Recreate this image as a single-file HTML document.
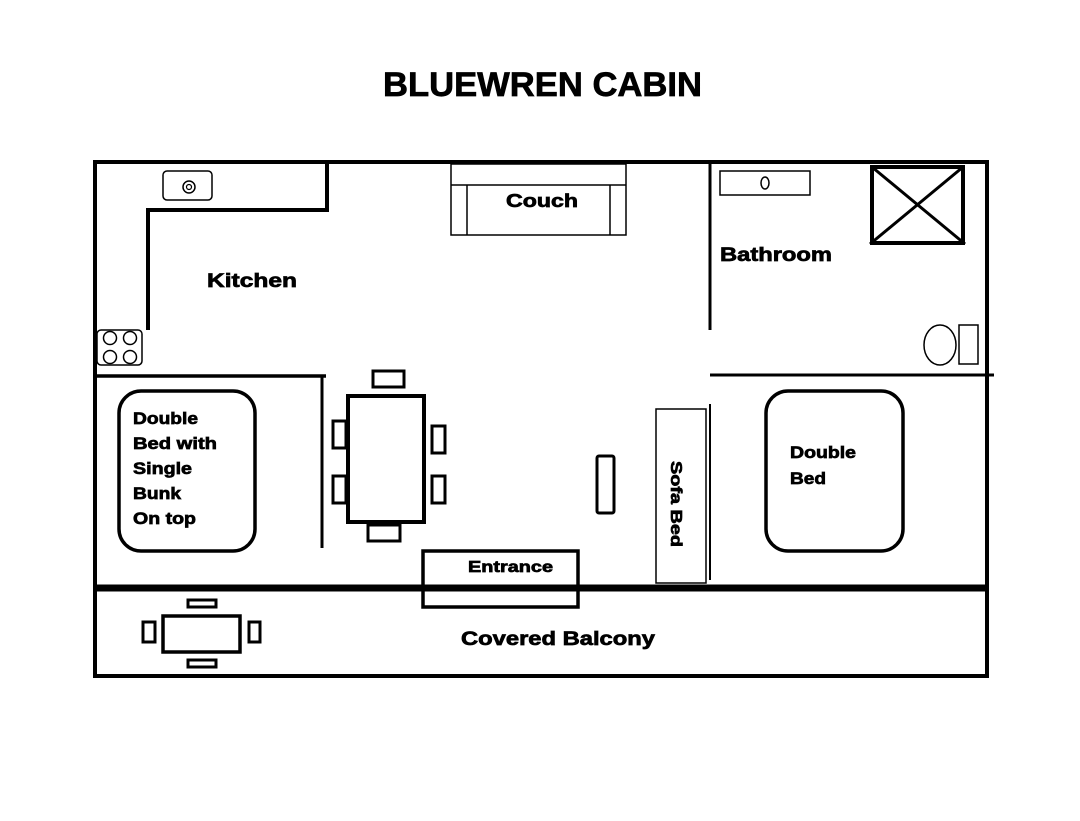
<!DOCTYPE html>
<html><head><style>html,body{margin:0;padding:0;background:#fff}svg{display:block}text{font-family:"Liberation Sans",Arial,sans-serif;font-weight:bold;fill:#000}.l{stroke:#000;stroke-width:0.7}</style></head>
<body>
<svg width="1080" height="821" viewBox="0 0 1080 821" xmlns="http://www.w3.org/2000/svg">
<rect width="1080" height="821" fill="#fff"/>
<text x="383" y="96" font-size="34" textLength="319" lengthAdjust="spacingAndGlyphs" class="l">BLUEWREN CABIN</text>
<g fill="none" stroke="#000">
<rect x="95" y="162" width="892" height="514" stroke-width="4"/>
<line x1="95" y1="588" x2="987" y2="588" stroke-width="7"/>
<polyline points="327,162 327,210 148,210 148,330" stroke-width="4"/>
<rect x="163" y="171" width="49" height="29" rx="4" stroke-width="1.5"/>
<circle cx="189" cy="187" r="6" stroke-width="1.5"/><circle cx="189" cy="187" r="2.5" stroke-width="1.2"/>
<rect x="97" y="330" width="45" height="35" rx="4" stroke-width="1.5"/>
<circle cx="110" cy="338" r="6.5" stroke-width="1.5"/><circle cx="130" cy="338" r="6.5" stroke-width="1.5"/>
<circle cx="110" cy="357" r="6.5" stroke-width="1.5"/><circle cx="130" cy="357" r="6.5" stroke-width="1.5"/>
<line x1="95" y1="376" x2="326" y2="376" stroke-width="3.5"/>
<line x1="322" y1="376" x2="322" y2="548" stroke-width="3"/>
<rect x="451" y="164" width="175" height="71" stroke-width="1.5"/>
<line x1="451" y1="185" x2="626" y2="185" stroke-width="1.5"/>
<line x1="467" y1="185" x2="467" y2="235" stroke-width="1.5"/>
<line x1="610" y1="185" x2="610" y2="235" stroke-width="1.5"/>
<line x1="710" y1="162" x2="710" y2="330" stroke-width="3"/>
<line x1="710" y1="375" x2="994" y2="375" stroke-width="3"/>
<rect x="720" y="171" width="90" height="24" stroke-width="1.5"/>
<ellipse cx="765" cy="183" rx="4" ry="6" stroke-width="1.5"/>
<rect x="872" y="167" width="91" height="76" stroke-width="4"/>
<line x1="872" y1="167" x2="965" y2="244" stroke-width="3"/>
<line x1="963" y1="167" x2="870" y2="244" stroke-width="3"/>
<ellipse cx="940" cy="345" rx="16" ry="20" stroke-width="1.5"/>
<rect x="959" y="325" width="19" height="39" stroke-width="1.5"/>
<rect x="348" y="396" width="76" height="126" stroke-width="4"/>
<rect x="373" y="371" width="31" height="16" stroke-width="3"/>
<rect x="368" y="525" width="32" height="16" stroke-width="3"/>
<rect x="333" y="421" width="13" height="27" stroke-width="3"/>
<rect x="333" y="476" width="13" height="27" stroke-width="3"/>
<rect x="432" y="426" width="13" height="27" stroke-width="3"/>
<rect x="432" y="476" width="13" height="27" stroke-width="3"/>
<rect x="119" y="391" width="136" height="160" rx="22" stroke-width="3.5"/>
<rect x="766" y="391" width="137" height="160" rx="22" stroke-width="3.5"/>
<rect x="656" y="409" width="50" height="174" stroke-width="1.5"/>
<line x1="710" y1="404" x2="710" y2="580" stroke-width="2"/>
<rect x="597" y="456" width="17" height="57" rx="2" stroke-width="3"/>
<rect x="423" y="551" width="155" height="56" stroke-width="3.5"/>
<rect x="163" y="616" width="77" height="36" stroke-width="3.5"/>
<rect x="188" y="600" width="28" height="7" stroke-width="3"/>
<rect x="188" y="660" width="28" height="7" stroke-width="3"/>
<rect x="143" y="622" width="12" height="20" stroke-width="3"/>
<rect x="249" y="622" width="11" height="20" stroke-width="3"/>
</g>
<g class="l" lengthAdjust="spacingAndGlyphs">
<text x="506" y="207" font-size="18" textLength="72" lengthAdjust="spacingAndGlyphs">Couch</text>
<text x="207" y="287" font-size="19" textLength="90" lengthAdjust="spacingAndGlyphs">Kitchen</text>
<text x="720" y="261" font-size="19" textLength="112" lengthAdjust="spacingAndGlyphs">Bathroom</text>
<text x="133" y="424" font-size="17" textLength="65" lengthAdjust="spacingAndGlyphs">Double</text>
<text x="133" y="449" font-size="17" textLength="84" lengthAdjust="spacingAndGlyphs">Bed with</text>
<text x="133" y="474" font-size="17" textLength="59" lengthAdjust="spacingAndGlyphs">Single</text>
<text x="133" y="499" font-size="17" textLength="48" lengthAdjust="spacingAndGlyphs">Bunk</text>
<text x="133" y="524" font-size="17" textLength="63" lengthAdjust="spacingAndGlyphs">On top</text>
<text x="790" y="458" font-size="17" textLength="66" lengthAdjust="spacingAndGlyphs">Double</text>
<text x="790" y="484" font-size="17" textLength="36" lengthAdjust="spacingAndGlyphs">Bed</text>
<text x="468" y="572" font-size="16" textLength="85" lengthAdjust="spacingAndGlyphs">Entrance</text>
<text x="461" y="645" font-size="19" textLength="194" lengthAdjust="spacingAndGlyphs">Covered Balcony</text>
<text transform="translate(671,461) rotate(90)" font-size="16" textLength="86" lengthAdjust="spacingAndGlyphs">Sofa Bed</text>
</g>
</svg>
</body></html>
